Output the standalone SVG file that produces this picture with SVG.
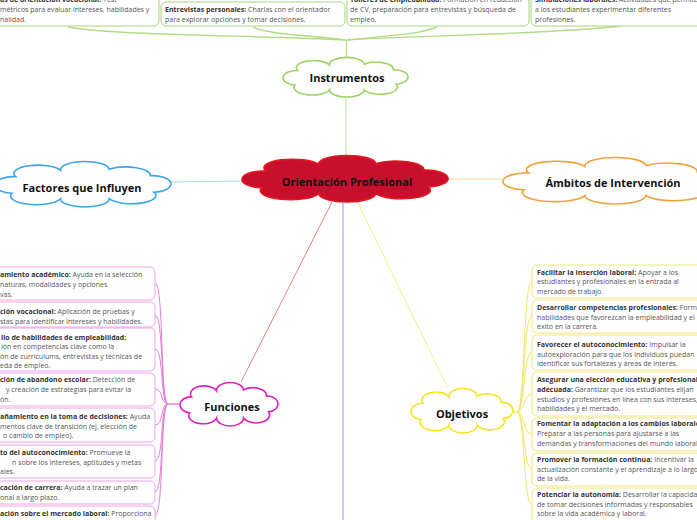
<svg xmlns="http://www.w3.org/2000/svg" xmlns:xlink="http://www.w3.org/1999/xlink" width="697" height="520" viewBox="0 0 697 520">
<style>
.t{font-family:"Open Sans","Noto Sans",sans-serif;font-size:7px;fill:#555}
.t .b{font-weight:bold;fill:#333}
.lbl{font-family:"Open Sans","Noto Sans",sans-serif;font-size:11px;font-weight:bold;fill:#111;text-anchor:middle}
.gbox{fill:#fff;stroke:#a8d57c;stroke-width:1}
.pbox{fill:#fff;stroke:#efa3e2;stroke-width:1}
.ybox{fill:#fff;stroke:#f3e57c;stroke-width:1}
.cl{fill:#fff;stroke-width:1.6}
.conn path{fill:none}
</style>
<defs>
<path id="cloud" vector-effect="non-scaling-stroke" d="M -38 10 A 10 9 0 0 1 -36 -8 A 13 9 0 0 1 -12 -15 A 13 9 0 0 1 14 -16 A 13 9 0 0 1 36 -9 A 10 9 0 0 1 38 9 A 13 9 0 0 1 14 16 A 13 9 0 0 1 -12 16 A 13 9 0 0 1 -38 10 Z"/>
</defs>

<g id="connectors" class="conn">
  <path d="M68 27 C120 36 250 35 346 40" stroke="#b2dc88" stroke-width="1.4"/>
  <path d="M253 27 C268 35 320 36 346 40" stroke="#b2dc88" stroke-width="1.4"/>
  <path d="M437 27 C420 35 370 37 347 40" stroke="#b2dc88" stroke-width="1.4"/>
  <path d="M620 26 C560 34 400 36 347 40" stroke="#b2dc88" stroke-width="1.4"/>
  <path d="M346.5 40 L346.5 58" stroke="#b2dc88" stroke-width="1.2"/>
  <path d="M346 96 L346 156" stroke="#c2e49c" stroke-width="1"/>
  <path d="M171 182 L245 181" stroke="#a8d8f2" stroke-width="1"/>
  <path d="M446 179 L504 179" stroke="#f8d7a8" stroke-width="1"/>
  <path d="M332 202 L241 382" stroke="#e0857a" stroke-width="1"/>
  <path d="M357 201 L448 388" stroke="#f6ee86" stroke-width="1"/>
  <path d="M343 202 L343 520" stroke="#a9aae6" stroke-width="1.2"/>
  <g stroke="#e67fd7" stroke-width="1">
    <path d="M155 283 C164 283 160 404 168 404"/>
    <path d="M155 315 C164 315 160 404 168 404"/>
    <path d="M155 349 C164 349 160 404 168 404"/>
    <path d="M155 389 C164 389 160 404 168 404"/>
    <path d="M155 425 C164 425 160 404 168 404"/>
    <path d="M155 461 C164 461 160 404 168 404"/>
    <path d="M155 492 C164 492 160 404 168 404"/>
    <path d="M155 515 C164 515 160 404 168 404"/>
    <path d="M168 404 L182 404" stroke-width="1.4"/>
  </g>
  <g stroke="#f3e36a" stroke-width="1">
    <path d="M510 412 L517 412" stroke-width="1.4"/>
    <path d="M517 412 C525 412 523 281 532 281"/>
    <path d="M517 412 C525 412 523 316 532 316"/>
    <path d="M517 412 C525 412 523 352 532 352"/>
    <path d="M517 412 C525 412 523 394 532 394"/>
    <path d="M517 412 C525 412 523 434 532 434"/>
    <path d="M517 412 C525 412 523 469 532 469"/>
    <path d="M517 412 C525 412 523 505 532 505"/>
  </g>
</g>

<g id="node-central">
  <use xlink:href="#cloud" transform="translate(345 178.5) scale(2.19 0.94)" style="fill:#c8102e;stroke:#e8141e;stroke-width:1.6"/>
  <text class="lbl" x="347" y="186">Orientación Profesional</text>
</g>
<g id="node-instrumentos">
  <use xlink:href="#cloud" class="cl" transform="translate(345.5 77) scale(1.33 0.8)" style="stroke:#9ed36a"/>
  <text class="lbl" x="347" y="82">Instrumentos</text>
</g>
<g id="node-factores">
  <use xlink:href="#cloud" class="cl" transform="translate(83 184) scale(1.87 0.92)" style="stroke:#3aa6e4"/>
  <text class="lbl" x="82" y="192">Factores que Influyen</text>
</g>
<g id="node-ambitos">
  <use xlink:href="#cloud" class="cl" transform="translate(613 180.5) scale(2.34 0.94)" style="stroke:#f0a23a"/>
  <text class="lbl" x="613" y="187">Ámbitos de Intervención</text>
</g>
<g id="node-funciones">
  <use xlink:href="#cloud" class="cl" transform="translate(229 404) scale(1.04 0.88)" style="stroke:#e21fbe"/>
  <text class="lbl" x="232" y="411">Funciones</text>
</g>
<g id="node-objetivos">
  <use xlink:href="#cloud" class="cl" transform="translate(462 410.5) scale(1.085 0.9)" style="stroke:#f7e41a"/>
  <text class="lbl" x="462" y="418">Objetivos</text>
</g>

<g id="node-pruebas">
  <rect class="gbox" x="-10" y="-10" width="169" height="36" rx="5"/>
  <text class="t" x="0" y="1.5"><tspan class="b">as de orientación vocacional:</tspan> Test</text>
  <text class="t" x="0" y="11.5">métricos para evaluar intereses, habilidades y</text>
  <text class="t" x="0" y="21.5">nalidad.</text>
</g>
<g id="node-entrevistas">
  <rect class="gbox" x="161" y="2" width="184" height="24" rx="5"/>
  <text class="t" x="165" y="11.5"><tspan class="b">Entrevistas personales:</tspan> Charlas con el orientador</text>
  <text class="t" x="165" y="21.5">para explorar opciones y tomar decisiones.</text>
</g>
<g id="node-talleres">
  <rect class="gbox" x="347" y="-10" width="182" height="36" rx="5"/>
  <text class="t" x="350" y="1.5"><tspan class="b">Talleres de empleabilidad:</tspan> Formación en redacción</text>
  <text class="t" x="350" y="11.5">de CV, preparación para entrevistas y búsqueda de</text>
  <text class="t" x="350" y="21.5">empleo.</text>
</g>
<g id="node-simulaciones">
  <rect class="gbox" x="531" y="-10" width="180" height="36" rx="5"/>
  <text class="t" x="535" y="1.5"><tspan class="b">Simulaciones laborales:</tspan> Actividades que permiten</text>
  <text class="t" x="535" y="11.5">a los estudiantes experimentar diferentes</text>
  <text class="t" x="535" y="21.5">profesiones.</text>
</g>

<g id="node-f1">
  <rect class="pbox" x="-10" y="267" width="165" height="33" rx="5"/>
  <text class="t" x="0" y="276.5"><tspan class="b">amiento académico:</tspan> Ayuda en la selección</text>
  <text class="t" x="0" y="286.5">naturas, modalidades y opciones</text>
  <text class="t" x="0" y="296.5">vas.</text>
</g>
<g id="node-f2">
  <rect class="pbox" x="-10" y="302" width="165" height="25" rx="5"/>
  <text class="t" x="0" y="313.5"><tspan class="b">ción vocacional:</tspan> Aplicación de pruebas y</text>
  <text class="t" x="0" y="323.5">stas para identificar intereses y habilidades.</text>
</g>
<g id="node-f3">
  <rect class="pbox" x="-10" y="328" width="165" height="43" rx="5"/>
  <text class="t" x="1" y="339.5"><tspan class="b">llo de habilidades de empleabilidad:</tspan></text>
  <text class="t" x="1" y="349">ión en competencias clave como la</text>
  <text class="t" x="0" y="358.5">ón de currículums, entrevistas y técnicas de</text>
  <text class="t" x="0" y="368">eda de empleo.</text>
</g>
<g id="node-f4">
  <rect class="pbox" x="-10" y="373" width="165" height="33" rx="5"/>
  <text class="t" x="0" y="382"><tspan class="b">ción de abandono escolar:</tspan> Detección de</text>
  <text class="t" x="6" y="391.5">y creación de estrategias para evitar la</text>
  <text class="t" x="0" y="401.5">ón.</text>
</g>
<g id="node-f5">
  <rect class="pbox" x="-10" y="408" width="165" height="34" rx="5"/>
  <text class="t" x="0" y="418.5"><tspan class="b">añamiento en la toma de decisiones:</tspan> Ayuda</text>
  <text class="t" x="0" y="428.5">mentos clave de transición (ej. elección de</text>
  <text class="t" x="3" y="438">o cambio de empleo).</text>
</g>
<g id="node-f6">
  <rect class="pbox" x="-10" y="445" width="165" height="33" rx="5"/>
  <text class="t" x="0" y="455"><tspan class="b">to del autoconocimiento:</tspan> Promueve la</text>
  <text class="t" x="12" y="464.5">n sobre los intereses, aptitudes y metas</text>
  <text class="t" x="0" y="474">ales.</text>
</g>
<g id="node-f7">
  <rect class="pbox" x="-10" y="481" width="165" height="23" rx="5"/>
  <text class="t" x="0" y="490"><tspan class="b">cación de carrera:</tspan> Ayuda a trazar un plan</text>
  <text class="t" x="0" y="500">onal a largo plazo.</text>
</g>
<g id="node-f8">
  <rect class="pbox" x="-10" y="506" width="165" height="30" rx="5"/>
  <text class="t" x="0" y="515.5"><tspan class="b">ación sobre el mercado laboral:</tspan> Proporciona</text>
</g>

<g id="node-o1">
  <rect class="ybox" x="532" y="265" width="180" height="33" rx="5"/>
  <text class="t" x="537" y="274.5"><tspan class="b">Facilitar la inserción laboral:</tspan> Apoyar a los</text>
  <text class="t" x="537" y="284">estudiantes y profesionales en la entrada al</text>
  <text class="t" x="537" y="293.5">mercado de trabajo.</text>
</g>
<g id="node-o2">
  <rect class="ybox" x="532" y="300" width="180" height="33" rx="5"/>
  <text class="t" x="537" y="310"><tspan class="b">Desarrollar competencias profesionales:</tspan> Formar</text>
  <text class="t" x="537" y="319.5">habilidades que favorezcan la empleabilidad y el</text>
  <text class="t" x="537" y="329">éxito en la carrera.</text>
</g>
<g id="node-o3">
  <rect class="ybox" x="532" y="335" width="180" height="35" rx="5"/>
  <text class="t" x="537" y="346.5"><tspan class="b">Favorecer el autoconocimiento:</tspan> Impulsar la</text>
  <text class="t" x="537" y="356.5">autoexploración para que los individuos puedan</text>
  <text class="t" x="537" y="366">identificar sus fortalezas y áreas de interés.</text>
</g>
<g id="node-o4">
  <rect class="ybox" x="532" y="372" width="180" height="44" rx="5"/>
  <text class="t" x="537" y="381.5"><tspan class="b">Asegurar una elección educativa y profesional</tspan></text>
  <text class="t" x="537" y="391.5"><tspan class="b">adecuada:</tspan> Garantizar que los estudiantes elijan</text>
  <text class="t" x="537" y="401.5">estudios y profesiones en línea con sus intereses,</text>
  <text class="t" x="537" y="411">habilidades y el mercado.</text>
</g>
<g id="node-o5">
  <rect class="ybox" x="532" y="418" width="180" height="33" rx="5"/>
  <text class="t" x="537" y="426"><tspan class="b">Fomentar la adaptación a los cambios laborales:</tspan></text>
  <text class="t" x="537" y="435.5">Preparar a las personas para ajustarse a las</text>
  <text class="t" x="537" y="445.5">demandas y transformaciones del mundo laboral.</text>
</g>
<g id="node-o6">
  <rect class="ybox" x="532" y="453" width="180" height="33" rx="5"/>
  <text class="t" x="537" y="461.5"><tspan class="b">Promover la formación continua:</tspan> Incentivar la</text>
  <text class="t" x="537" y="471.5">actualización constante y el aprendizaje a lo largo</text>
  <text class="t" x="537" y="480.5">de la vida.</text>
</g>
<g id="node-o7">
  <rect class="ybox" x="532" y="488" width="180" height="40" rx="5"/>
  <text class="t" x="537" y="496.5"><tspan class="b">Potenciar la autonomía:</tspan> Desarrollar la capacidad</text>
  <text class="t" x="537" y="506.5">de tomar decisiones informadas y responsables</text>
  <text class="t" x="537" y="515.5">sobre la vida académica y laboral.</text>
</g>
</svg>
